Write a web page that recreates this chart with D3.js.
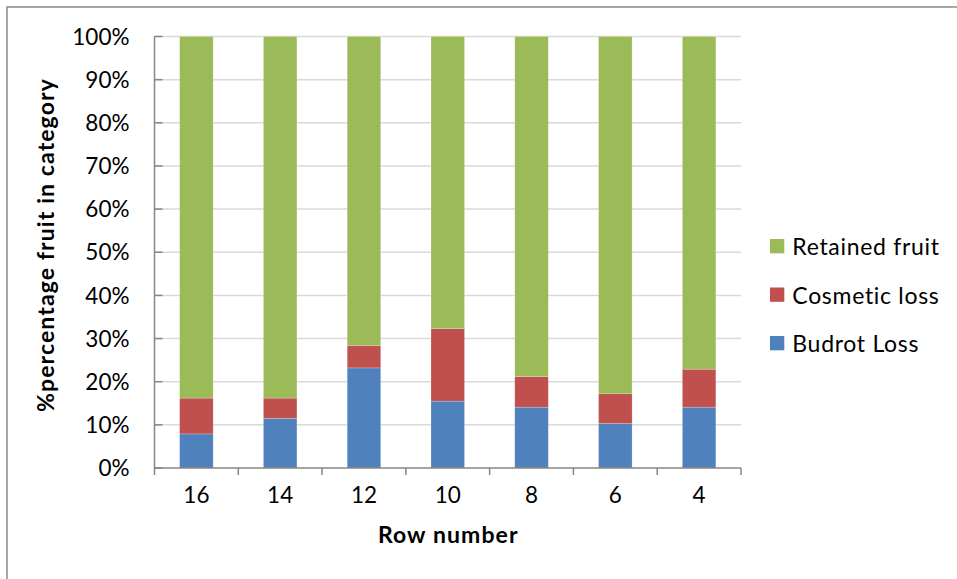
<!DOCTYPE html>
<html>
<head>
<meta charset="utf-8">
<script src="https://cdn.jsdelivr.net/npm/d3@7"></script>
<style>
  html, body { margin: 0; padding: 0; background: #fff; }
  svg { display: block; }
  text { font-family: Lato, "Open Sans", sans-serif; fill: #000; }
</style>
</head>
<body>
<svg id="chart" width="957" height="579"></svg>
<script>
// ---- data ----
const rows = ["16", "14", "12", "10", "8", "6", "4"];
const budrotLoss = [7.9, 11.5, 23.2, 15.5, 14.1, 10.3, 14.1];
const cosmeticLoss = [8.3, 4.7, 5.2, 16.8, 7.1, 6.9, 8.8];
const retainedFruit = [83.8, 83.8, 71.6, 67.7, 78.8, 82.8, 77.1];
const yTicks = [0, 10, 20, 30, 40, 50, 60, 70, 80, 90, 100];
const seriesKeys = ["Budrot Loss", "Cosmetic loss", "Retained fruit"];
const seriesColors = ["#4F81BD", "#C0504D", "#9BBB59"];
const legendOrder = ["Retained fruit", "Cosmetic loss", "Budrot Loss"];

(function () {
// ---- build table ----
const table = rows.map((r, i) => ({
  row: r,
  "Budrot Loss": budrotLoss[i],
  "Cosmetic loss": cosmeticLoss[i],
  "Retained fruit": retainedFruit[i]
}));

const svg = d3.select("#chart");

// outer border (chart area frame)
svg.append("rect")
  .attr("x", 7).attr("y", 7)
  .attr("width", 1000).attr("height", 1000)
  .attr("fill", "none").attr("stroke", "#8a8a8a").attr("stroke-width", 1.5);

const pLeft = 154.5, pRight = 741, pTop = 36.5, pBottom = 468;

const x = d3.scaleBand().domain(rows).range([pLeft, pRight])
  .paddingInner(0.6).paddingOuter(0.3);
const y = d3.scaleLinear().domain([0, 100]).range([pBottom, pTop]);
const color = d3.scaleOrdinal().domain(seriesKeys).range(seriesColors);

// gridlines
svg.append("g").selectAll("line").data(yTicks.filter(d => d > 0)).join("line")
  .attr("x1", pLeft).attr("x2", pRight)
  .attr("y1", d => y(d)).attr("y2", d => y(d))
  .attr("stroke", "#d9d9d9").attr("stroke-width", 1.5);

// stacked bars
const stack = d3.stack().keys(seriesKeys)(table);
svg.append("g").selectAll("g").data(stack).join("g")
  .attr("fill", d => color(d.key))
  .selectAll("rect").data(d => d).join("rect")
  .attr("x", d => x(d.data.row))
  .attr("width", x.bandwidth())
  .attr("y", d => y(d[1]))
  .attr("height", d => y(d[0]) - y(d[1]))
  .attr("stroke", "rgba(255,255,255,0.35)").attr("stroke-width", 0.6);

// y axis
const yAxisG = svg.append("g");
yAxisG.append("line")
  .attr("x1", pLeft).attr("x2", pLeft).attr("y1", pTop).attr("y2", pBottom)
  .attr("stroke", "#868686").attr("stroke-width", 1.5);
yAxisG.selectAll("line.tick").data(yTicks).join("line").attr("class", "tick")
  .attr("x1", pLeft).attr("x2", pLeft + 8)
  .attr("y1", d => y(d)).attr("y2", d => y(d))
  .attr("stroke", "#868686").attr("stroke-width", 1.5);
yAxisG.selectAll("text").data(yTicks).join("text")
  .attr("x", 129.5).attr("y", d => y(d)).attr("dy", "0.36em")
  .attr("text-anchor", "end").attr("font-size", 22.5)
  .text(d => d + "%");

// x axis
const xAxisG = svg.append("g");
xAxisG.append("line")
  .attr("x1", pLeft).attr("x2", pRight).attr("y1", pBottom).attr("y2", pBottom)
  .attr("stroke", "#868686").attr("stroke-width", 1.5);
const step = x.step();
const boundaries = rows.map(r => x(r) - step * x.paddingOuter()).concat([pRight]);
xAxisG.selectAll("line.tick").data(boundaries).join("line").attr("class", "tick")
  .attr("x1", d => d).attr("x2", d => d)
  .attr("y1", pBottom).attr("y2", pBottom + 7)
  .attr("stroke", "#868686").attr("stroke-width", 1.5);
xAxisG.selectAll("text").data(rows).join("text")
  .attr("x", d => x(d) + x.bandwidth() / 2).attr("y", 502.7)
  .attr("text-anchor", "middle").attr("font-size", 22.5)
  .text(d => d);

// axis titles
svg.append("text")
  .attr("x", (pLeft + pRight) / 2 + 0.5).attr("y", 543.3)
  .attr("text-anchor", "middle").attr("font-size", 23).attr("font-weight", "bold")
  .attr("letter-spacing", 1.1)
  .text("Row number");
svg.append("text")
  .attr("transform", "translate(53.5," + 245 + ") rotate(-90)")
  .attr("text-anchor", "middle").attr("font-size", 23).attr("font-weight", "bold")
  .attr("letter-spacing", 1.1)
  .text("%percentage fruit in category");

// legend
const legend = svg.append("g").selectAll("g").data(legendOrder).join("g")
  .attr("transform", (d, i) => "translate(770," + (239 + i * 48.5) + ")");
legend.append("rect").attr("width", 14.3).attr("height", 14.3)
  .attr("fill", d => color(d));
legend.append("text").attr("x", 22.3).attr("y", 16)
  .attr("font-size", 23).attr("letter-spacing", 0.7).text(d => d);
})();
</script>
</body>
</html>
